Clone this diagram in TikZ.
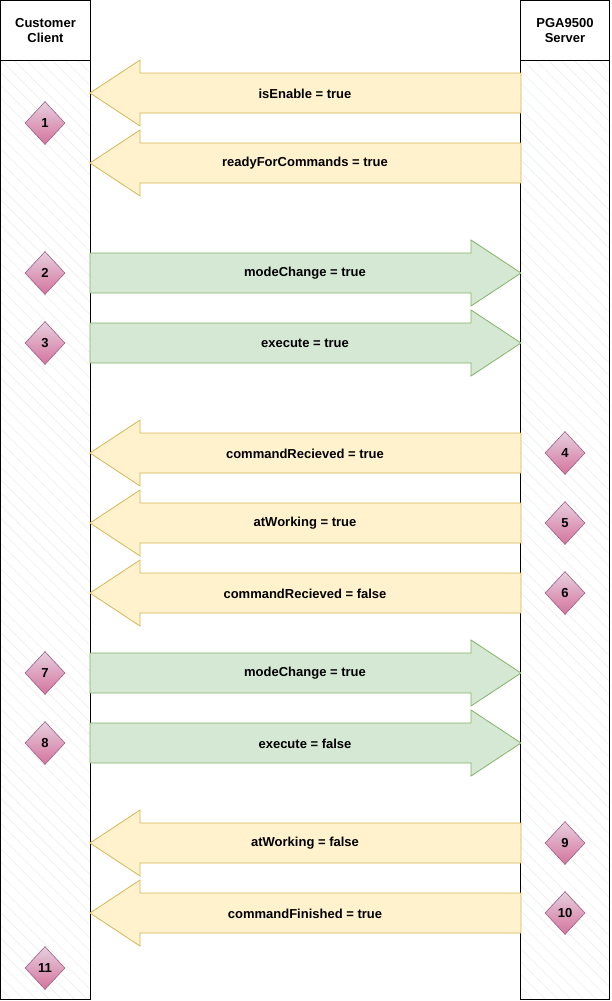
\documentclass[tikz,border=0pt]{standalone}
\usepackage{fontspec}
\setmainfont{Liberation Sans}
\usetikzlibrary{shapes.geometric,patterns.meta}
\definecolor{noteFill}{HTML}{FFF2CC}
\definecolor{noteLine}{HTML}{D6B656}
\definecolor{okFill}{HTML}{D5E8D4}
\definecolor{okLine}{HTML}{82B366}
\definecolor{stepTop}{HTML}{E6D0DE}
\definecolor{stepBot}{HTML}{D5739D}
\definecolor{stepLine}{HTML}{996185}
\tikzset{
  lanehead/.style={draw=black, line width=0.8pt, align=center, inner sep=0pt,
    font=\fontsize{13}{15.5}\selectfont\bfseries},
  lanebody/.style={draw=black, line width=0.8pt,
    pattern={Lines[angle=-45,distance=9pt,line width=0.6pt]}, pattern color=black!7},
  toclient/.style={fill=noteFill, draw=noteLine, line width=0.8pt},
  toserver/.style={fill=okFill, draw=okLine, line width=0.8pt},
  msg/.style={font=\fontsize{13}{15.5}\selectfont\bfseries},
  stepmark/.style={diamond, draw=stepLine, line width=0.6pt, top color=stepTop, bottom color=stepBot,
    minimum width=40pt, minimum height=43pt, inner sep=0pt, font=\fontsize{13}{15.5}\selectfont\bfseries},
}
\begin{document}
\begin{tikzpicture}[x=1pt,y=-1pt]
        \useasboundingbox (0,0) rectangle (611,1001);

        % lanes
        \draw[lanebody] (0.5, 60.5) rectangle (90.5, 999.5);
        \draw[lanebody] (520.5, 60.5) rectangle (609.5, 999.5);
        \node[lanehead, minimum width=90pt, minimum height=60pt] (client) at (45.5, 30.5) {Customer\\Client};
        \node[lanehead, minimum width=89pt, minimum height=60pt] (server) at (565, 30.5) {PGA9500\\Server};

        % server -> client
        \draw[toclient] (521, 73) -- (140, 73) -- (140, 60) -- (90, 93) -- (140, 126) -- (140, 113) -- (521, 113) -- cycle;
        \node[msg] (isenable) at (305, 93.5) {isEnable = true};
        \draw[toclient] (521, 143) -- (140, 143) -- (140, 130) -- (90, 163) -- (140, 196) -- (140, 183) -- (521, 183) -- cycle;
        \node[msg] (ready) at (305, 163.5) {readyForCommands = true};

        % client -> server
        \draw[toserver] (90, 253) -- (471, 253) -- (471, 240) -- (521, 273) -- (471, 306) -- (471, 293) -- (90, 293) -- cycle;
        \node[msg] (mode1) at (305, 273.5) {modeChange = true};
        \draw[toserver] (90, 323) -- (471, 323) -- (471, 310) -- (521, 343) -- (471, 376) -- (471, 363) -- (90, 363) -- cycle;
        \node[msg] (exec1) at (305, 343.5) {execute = true};

        \draw[toclient] (521, 433) -- (140, 433) -- (140, 420) -- (90, 453) -- (140, 486) -- (140, 473) -- (521, 473) -- cycle;
        \node[msg] (recv1) at (305, 453.5) {commandRecieved = true};
        \draw[toclient] (521, 503) -- (140, 503) -- (140, 490) -- (90, 523) -- (140, 556) -- (140, 543) -- (521, 543) -- cycle;
        \node[msg] (work1) at (305, 523.5) {atWorking = true};
        \draw[toclient] (521, 573) -- (140, 573) -- (140, 560) -- (90, 593) -- (140, 626) -- (140, 613) -- (521, 613) -- cycle;
        \node[msg] (recv2) at (305, 593.5) {commandRecieved = false};

        \draw[toserver] (90, 653) -- (471, 653) -- (471, 640) -- (521, 673) -- (471, 706) -- (471, 693) -- (90, 693) -- cycle;
        \node[msg] (mode2) at (305, 673.5) {modeChange = true};
        \draw[toserver] (90, 723) -- (471, 723) -- (471, 710) -- (521, 743) -- (471, 776) -- (471, 763) -- (90, 763) -- cycle;
        \node[msg] (exec2) at (305, 743.5) {execute = false};

        \draw[toclient] (521, 823) -- (140, 823) -- (140, 810) -- (90, 843) -- (140, 876) -- (140, 863) -- (521, 863) -- cycle;
        \node[msg] (work2) at (305, 843.5) {atWorking = false};
        \draw[toclient] (521, 893) -- (140, 893) -- (140, 880) -- (90, 913) -- (140, 946) -- (140, 933) -- (521, 933) -- cycle;
        \node[msg] (done) at (305, 913.5) {commandFinished = true};

        % steps
        \node[stepmark] (s1) at (45, 123) {1};
        \node[stepmark] (s2) at (45, 273) {2};
        \node[stepmark] (s3) at (45, 343) {3};
        \node[stepmark] (s4) at (565, 453) {4};
        \node[stepmark] (s5) at (565, 523) {5};
        \node[stepmark] (s6) at (565, 593) {6};
        \node[stepmark] (s7) at (45, 673) {7};
        \node[stepmark] (s8) at (45, 743) {8};
        \node[stepmark] (s9) at (565, 843) {9};
        \node[stepmark] (s10) at (565, 913) {10};
        \node[stepmark] (s11) at (45, 968) {11};
    \end{tikzpicture}
\end{document}
